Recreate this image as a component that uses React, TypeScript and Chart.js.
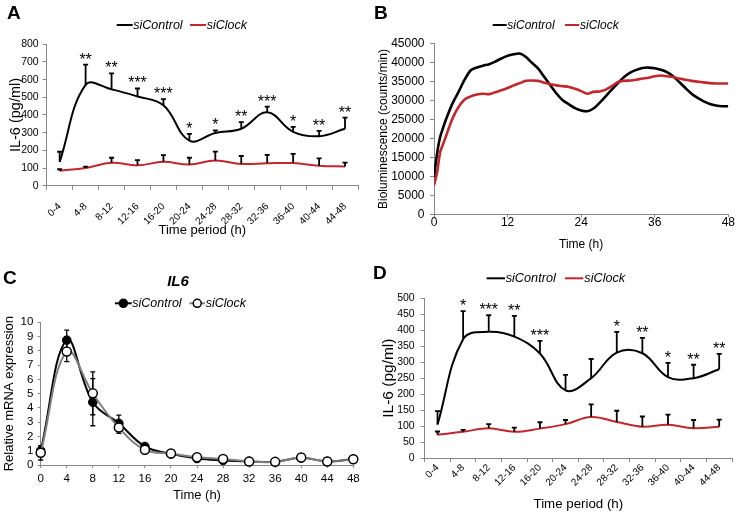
import React, { useEffect, useRef } from "react";
import { Chart, registerables } from "chart.js";

Chart.register(...registerables);

const FONT = "'Liberation Sans', Arial, Helvetica, sans-serif";
const RED = "#c1272d";
const AXIS = "#878787";
const GRAY = "#7f7f7f";
Chart.defaults.font.family = FONT;

// ---------- Panel A ----------
const periods = ["0-4", "4-8", "8-12", "12-16", "16-20", "20-24", "24-28", "28-32", "32-36", "36-40", "40-44", "44-48"];
const aControl = [135, 570, 545, 505, 455, 255, 298, 322, 415, 305, 280, 322];
const aControlErr = [57, 115, 90, 45, 35, 38, 15, 38, 32, 28, 30, 63];
const aClock = [85, 100, 130, 115, 135, 120, 143, 123, 127, 128, 113, 108];
const aClockErr = [8, 8, 28, 30, 38, 38, 50, 45, 47, 52, 42, 22];
const aSig = ["", "**", "**", "***", "***", "*", "*", "**", "***", "*", "**", "**"];

// ---------- Panel B ----------
const bHours = [0, 0.5, 1, 1.5, 2, 3, 4, 5, 6, 7, 8, 9, 10, 11, 12, 13, 14, 15, 16, 17, 18, 19, 20, 21, 22, 23, 24, 25, 26, 27, 28, 29, 30, 31, 32, 33, 34, 35, 36, 37, 38, 39, 40, 41, 42, 43, 44, 45, 46, 47, 48];
const bControl = [9800, 16000, 20400, 22900, 25200, 29200, 32300, 35500, 38000, 38700, 39200, 39600, 40300, 41100, 41800, 42200, 42400, 41500, 39900, 38400, 36200, 34000, 31800, 30100, 29000, 28000, 27400, 27200, 27900, 29400, 31100, 32900, 34600, 36200, 37400, 38100, 38600, 38700, 38500, 38100, 37500, 36400, 34900, 33300, 31800, 30700, 29800, 29100, 28700, 28500, 28500];
const bClock = [7650, 11000, 16400, 18600, 20800, 25200, 28300, 30300, 31100, 31600, 31800, 31700, 32200, 32700, 33300, 34000, 34600, 35200, 35300, 35200, 34700, 34300, 34000, 33800, 33600, 33100, 32500, 31800, 32300, 32400, 32900, 33800, 34900, 35200, 35300, 35500, 35800, 36000, 36400, 36600, 36400, 36200, 35800, 35500, 35200, 35000, 34800, 34600, 34500, 34500, 34500];

// ---------- Panel C ----------
const cHours = [0, 4, 8, 12, 16, 20, 24, 28, 32, 36, 40, 44, 48];
const cControl = [1.0, 8.75, 4.4, 2.92, 1.3, 0.78, 0.45, 0.32, 0.25, 0.22, 0.5, 0.25, 0.42];
const cControlErr = [0.25, 0.7, 1.65, 0.58, 0.1, 0.06, 0.05, 0.05, 0.04, 0.03, 0.05, 0.04, 0.06];
const cClock = [0.85, 7.95, 5.02, 2.62, 1.07, 0.8, 0.55, 0.42, 0.25, 0.22, 0.52, 0.25, 0.4];
const cClockErr = [0.5, 0.7, 1.5, 0.4, 0.1, 0.06, 0.05, 0.05, 0.04, 0.03, 0.05, 0.04, 0.06];

// ---------- Panel D ----------
const dControl = [105, 372, 395, 380, 327, 212, 250, 330, 328, 253, 250, 278];
const dControlErr = [42, 88, 52, 65, 40, 48, 60, 65, 48, 45, 42, 48];
const dClock = [73, 82, 93, 82, 92, 106, 128, 113, 98, 104, 93, 98];
const dClockErr = [10, 6, 13, 13, 20, 13, 40, 35, 32, 32, 26, 22];
const dSig = ["", "*", "***", "**", "***", "", "", "*", "**", "*", "**", "**"];

// ---------- plugins ----------
type LegendItem = { label: string; color: string; x0: number; x1: number; tx: number; marker?: "filled" | "open" };
type Decor = {
  letter: string; lx: number; ly: number;
  legendY: number; legendFont: number; legend: LegendItem[];
  title?: { text: string; x: number; y: number; size: number };
};

const decorPlugin = (d: Decor) => ({
  id: "decor",
  afterDraw(chart: any) {
    const ctx = chart.ctx;
    ctx.save();
    ctx.fillStyle = "#000";
    ctx.textAlign = "left";
    ctx.textBaseline = "alphabetic";
    ctx.font = `bold 19px ${FONT}`;
    ctx.fillText(d.letter, d.lx, d.ly);
    if (d.title) {
      ctx.font = `italic bold ${d.title.size}px ${FONT}`;
      ctx.textAlign = "center";
      ctx.textBaseline = "middle";
      ctx.fillText(d.title.text, d.title.x, d.title.y);
    }
    ctx.textAlign = "left";
    ctx.textBaseline = "middle";
    for (const it of d.legend) {
      ctx.strokeStyle = it.color;
      ctx.lineWidth = 2;
      ctx.beginPath();
      ctx.moveTo(it.x0, d.legendY);
      ctx.lineTo(it.x1, d.legendY);
      ctx.stroke();
      if (it.marker) {
        const cx = (it.x0 + it.x1) / 2;
        ctx.beginPath();
        ctx.arc(cx, d.legendY, 4, 0, Math.PI * 2);
        ctx.fillStyle = it.marker === "filled" ? "#000" : "#fff";
        ctx.fill();
        ctx.lineWidth = 1.5;
        ctx.strokeStyle = "#000";
        ctx.stroke();
      }
      ctx.fillStyle = "#000";
      ctx.font = `italic ${d.legendFont}px ${FONT}`;
      ctx.fillText(it.label, it.tx, d.legendY + 0.5);
    }
    ctx.restore();
  },
});

type ErrSpec = { ds: number; up: number[]; down?: number[]; width: number; cap: number };

const valueOf = (raw: any) => (typeof raw === "number" ? raw : raw.y);

const errorPlugin = (specs: ErrSpec[], phase: "before" | "after") => {
  const draw = (chart: any) => {
    const ctx = chart.ctx;
    const y = chart.scales.y;
    ctx.save();
    ctx.strokeStyle = "#000";
    for (const s of specs) {
      const meta = chart.getDatasetMeta(s.ds);
      const raw = chart.data.datasets[s.ds].data;
      meta.data.forEach((pt: any, i: number) => {
        const v = valueOf(raw[i]);
        ctx.lineWidth = s.width;
        const top = y.getPixelForValue(v + s.up[i]);
        const bot = s.down ? y.getPixelForValue(v - s.down[i]) : pt.y;
        ctx.beginPath();
        ctx.moveTo(pt.x, bot);
        ctx.lineTo(pt.x, top);
        ctx.moveTo(pt.x - s.cap, top);
        ctx.lineTo(pt.x + s.cap, top);
        if (s.down) {
          ctx.moveTo(pt.x - s.cap, bot);
          ctx.lineTo(pt.x + s.cap, bot);
        }
        ctx.stroke();
      });
    }
    ctx.restore();
  };
  return phase === "before"
    ? { id: "errbars", beforeDatasetsDraw: draw }
    : { id: "errbars", afterDatasetsDraw: draw };
};

const sigPlugin = (ds: number, up: number[], labels: string[], size: number, gap: number) => ({
  id: "sig",
  afterDatasetsDraw(chart: any) {
    const ctx = chart.ctx;
    const y = chart.scales.y;
    const meta = chart.getDatasetMeta(ds);
    const raw = chart.data.datasets[ds].data;
    ctx.save();
    ctx.fillStyle = "#000";
    ctx.font = `${size}px ${FONT}`;
    ctx.textAlign = "center";
    ctx.textBaseline = "alphabetic";
    meta.data.forEach((pt: any, i: number) => {
      if (!labels[i]) return;
      const top = y.getPixelForValue(valueOf(raw[i]) + up[i]);
      ctx.fillText(labels[i], pt.x, top - gap);
    });
    ctx.restore();
  },
});

// ---------- axis helpers ----------
const yAxis = (o: {
  min: number; max: number; step: number; size: number; tickLen: number; pad: number;
  title: string; titleSize: number; titlePad: number; width: number;
}) => ({
  min: o.min,
  max: o.max,
  border: { color: AXIS, width: 1 },
  grid: { drawOnChartArea: false, drawTicks: true, tickLength: o.tickLen, color: AXIS, lineWidth: 1 },
  ticks: {
    stepSize: o.step, color: "#000", padding: o.pad, font: { family: FONT, size: o.size },
    autoSkip: false,
    callback: (v: any) => String(v),
  },
  title: { display: true, text: o.title, color: "#000", font: { family: FONT, size: o.titleSize }, padding: { top: o.titlePad, bottom: 0 } },
  afterFit: (s: any) => { s.width = o.width; },
});

const catXAxis = (o: { size: number; tickLen: number; pad: number; title: string; titleSize: number; height: number }) => ({
  type: "category",
  offset: true,
  border: { color: AXIS, width: 1 },
  grid: { offset: true, drawOnChartArea: false, drawTicks: true, tickLength: o.tickLen, color: AXIS, lineWidth: 1 },
  ticks: { color: "#000", font: { family: FONT, size: o.size }, minRotation: 45, maxRotation: 45, autoSkip: false, padding: o.pad },
  title: { display: true, text: o.title, color: "#000", font: { family: FONT, size: o.titleSize }, padding: { top: 0, bottom: 2 } },
  afterFit: (s: any) => { s.height = o.height; },
});

const linXAxis = (o: { min: number; max: number; step: number; size: number; tickLen: number; pad: number; title: string; titleSize: number; height: number }) => ({
  type: "linear",
  min: o.min,
  max: o.max,
  border: { color: AXIS, width: 1 },
  grid: { drawOnChartArea: false, drawTicks: true, tickLength: o.tickLen, color: AXIS, lineWidth: 1 },
  ticks: { stepSize: o.step, color: "#000", font: { family: FONT, size: o.size }, padding: o.pad, maxRotation: 0, autoSkip: false, callback: (v: any) => String(v) },
  title: { display: true, text: o.title, color: "#000", font: { family: FONT, size: o.titleSize }, padding: { top: 0, bottom: 2 } },
  afterFit: (s: any) => { s.height = o.height; },
});

const baseOptions = (padding: any, scales: any) => ({
  responsive: false,
  maintainAspectRatio: false,
  animation: false,
  events: [],
  layout: { padding },
  plugins: { legend: { display: false }, tooltip: { enabled: false }, title: { display: false } },
  scales,
});

// ---------- chart configs ----------
const makeA = () => ({
  type: "line",
  data: {
    labels: periods,
    datasets: [
      { label: "siControl", data: aControl, borderColor: "#000", borderWidth: 2, pointRadius: 0, tension: 0.4, order: 1 },
      { label: "siClock", data: aClock, borderColor: RED, borderWidth: 2, pointRadius: 0, tension: 0.4, order: 0 },
    ],
  },
  options: baseOptions(
    { left: 5.3, top: 44.3, right: 12, bottom: 20.2 },
    {
      x: catXAxis({ size: 10, tickLen: 4, pad: 11, title: "Time period (h)", titleSize: 13, height: 54.1 }),
      y: yAxis({ min: 0, max: 800, step: 100, size: 10.5, tickLen: 4, pad: 4, title: "IL-6 (pg/ml)", titleSize: 14.5, titlePad: 2, width: 41.4 }),
    }
  ),
  plugins: [
    errorPlugin([
      { ds: 0, up: aControlErr, width: 1.8, cap: 2.5 },
      { ds: 1, up: aClockErr, width: 1.8, cap: 2.5 },
    ], "after"),
    sigPlugin(0, aControlErr, aSig, 16, 0),
    decorPlugin({
      letter: "A", lx: 7, ly: 18.5, legendY: 25, legendFont: 12.5,
      legend: [
        { label: "siControl", color: "#000", x0: 116.7, x1: 132.7, tx: 133.3 },
        { label: "siClock", color: RED, x0: 190, x1: 206, tx: 206.7 },
      ],
    }),
  ],
});

const makeB = () => ({
  type: "line",
  data: {
    datasets: [
      { label: "siControl", data: bHours.map((h, i) => ({ x: h, y: bControl[i] })), borderColor: "#000", borderWidth: 2.6, pointRadius: 0, tension: 0.3, order: 1 },
      { label: "siClock", data: bHours.map((h, i) => ({ x: h, y: bClock[i] })), borderColor: RED, borderWidth: 2.6, pointRadius: 0, tension: 0.3, order: 0 },
    ],
  },
  options: baseOptions(
    { left: 4.8, top: 43.7, right: 12.7, bottom: 6.5 },
    {
      x: linXAxis({ min: 0, max: 48, step: 12, size: 12, tickLen: 3, pad: -2, title: "Time (h)", titleSize: 12, height: 39.2 }),
      y: yAxis({ min: 0, max: 45000, step: 5000, size: 12, tickLen: 4, pad: 5.5, title: "Bioluminescence (counts/min)", titleSize: 12, titlePad: 2, width: 59.2 }),
    }
  ),
  plugins: [
    decorPlugin({
      letter: "B", lx: 4, ly: 18.5, legendY: 25, legendFont: 12,
      legend: [
        { label: "siControl", color: "#000", x0: 122.7, x1: 136.7, tx: 137.3 },
        { label: "siClock", color: RED, x0: 195, x1: 209.3, tx: 210 },
      ],
    }),
  ],
});

const makeC = () => ({
  type: "line",
  data: {
    datasets: [
      {
        label: "siControl", data: cHours.map((h, i) => ({ x: h, y: cControl[i] })),
        borderColor: "#000", borderWidth: 2, pointRadius: 4.3, pointBackgroundColor: "#000", pointBorderColor: "#000",
        pointBorderWidth: 1, tension: 0.4, clip: false, order: 1,
      },
      {
        label: "siClock", data: cHours.map((h, i) => ({ x: h, y: cClock[i] })),
        borderColor: GRAY, borderWidth: 2, pointRadius: 4.5, pointBackgroundColor: "#fff", pointBorderColor: "#000",
        pointBorderWidth: 1.5, tension: 0.4, clip: false, order: 0,
      },
    ],
  },
  options: baseOptions(
    { left: 0, top: 62.3, right: 16.7, bottom: 17.2 },
    {
      x: linXAxis({ min: 0, max: 48, step: 4, size: 11.5, tickLen: 3, pad: 4, title: "Time (h)", titleSize: 13, height: 39.8 }),
      y: yAxis({ min: 0, max: 10, step: 1, size: 11.5, tickLen: 3, pad: 4.4, title: "Relative mRNA expression", titleSize: 13, titlePad: 1.7, width: 40.7 }),
    }
  ),
  plugins: [
    errorPlugin([
      { ds: 0, up: cControlErr, down: cControlErr, width: 1.3, cap: 2.5 },
      { ds: 1, up: cClockErr, down: cClockErr, width: 1.3, cap: 2.5 },
    ], "before"),
    decorPlugin({
      letter: "C", lx: 3, ly: 24, legendY: 43.3, legendFont: 12.5,
      title: { text: "IL6", x: 178, y: 21.7, size: 15 },
      legend: [
        { label: "siControl", color: "#000", x0: 115, x1: 131.7, tx: 132.3, marker: "filled" },
        { label: "siClock", color: GRAY, x0: 189.5, x1: 205, tx: 205.7, marker: "open" },
      ],
    }),
  ],
});

const makeD = () => ({
  type: "line",
  data: {
    labels: periods,
    datasets: [
      { label: "siControl", data: dControl, borderColor: "#000", borderWidth: 2, pointRadius: 0, tension: 0.4, order: 1 },
      { label: "siClock", data: dClock, borderColor: RED, borderWidth: 2, pointRadius: 0, tension: 0.4, order: 0 },
    ],
  },
  options: baseOptions(
    { left: 7.3, top: 38.3, right: 9, bottom: 7.7 },
    {
      x: catXAxis({ size: 10, tickLen: 4, pad: 0, title: "Time period (h)", titleSize: 13.3, height: 56.3 }),
      y: yAxis({ min: 0, max: 500, step: 50, size: 10.5, tickLen: 4, pad: 6, title: "IL-6 (pg/ml)", titleSize: 15.5, titlePad: 2, width: 47.4 }),
    }
  ),
  plugins: [
    errorPlugin([
      { ds: 0, up: dControlErr, width: 1.8, cap: 2.5 },
      { ds: 1, up: dClockErr, width: 1.8, cap: 2.5 },
    ], "after"),
    sigPlugin(0, dControlErr, dSig, 16, 0),
    decorPlugin({
      letter: "D", lx: 3, ly: 19, legendY: 18.3, legendFont: 12.7,
      legend: [
        { label: "siControl", color: "#000", x0: 116.7, x1: 135, tx: 135.7 },
        { label: "siClock", color: RED, x0: 195, x1: 213.3, tx: 214.3 },
      ],
    }),
  ],
});

function Panel({ left, top, width, height, make }: { left: number; top: number; width: number; height: number; make: () => any }) {
  const ref = useRef<HTMLCanvasElement>(null);
  useEffect(() => {
    const chart = new Chart(ref.current as HTMLCanvasElement, make());
    return () => chart.destroy();
  }, []);
  return (
    <canvas
      ref={ref}
      width={width}
      height={height}
      style={{ position: "absolute", left, top, width, height }}
    />
  );
}

export default function App() {
  return (
    <div style={{ position: "absolute", left: 0, top: 0, width: 741, height: 522, background: "#fff", overflow: "hidden" }}>
      <Panel left={0} top={0} width={370} height={260} make={makeA} />
      <Panel left={370} top={0} width={371} height={260} make={makeB} />
      <Panel left={0} top={260} width={370} height={262} make={makeC} />
      <Panel left={370} top={260} width={371} height={262} make={makeD} />
    </div>
  );
}
